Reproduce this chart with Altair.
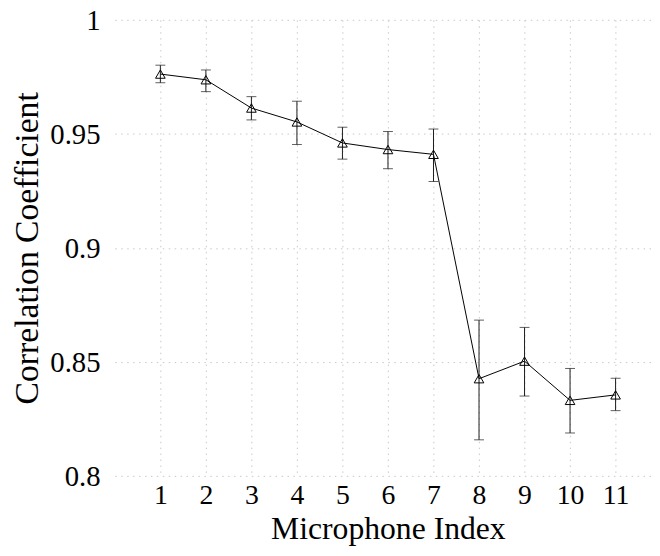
import altair as alt
import pandas as pd

mic_index = [1, 2, 3, 4, 5, 6, 7, 8, 9, 10, 11]
corr_mean = [0.9762, 0.9737, 0.9613, 0.9552, 0.9460, 0.9431, 0.9410, 0.8426, 0.8503, 0.8331, 0.8355]
corr_upper = [0.9801, 0.9780, 0.9663, 0.9643, 0.9529, 0.9510, 0.9521, 0.8683, 0.8651, 0.8471, 0.8428]
corr_lower = [0.9724, 0.9685, 0.9561, 0.9453, 0.9389, 0.9347, 0.9291, 0.8158, 0.8350, 0.8188, 0.8286]
y_ticks = [0.8, 0.85, 0.9, 0.95, 1.0]

df = pd.DataFrame({"mic": mic_index, "mean": corr_mean, "upper": corr_upper, "lower": corr_lower})

FONT = "Liberation Serif"

x = alt.X("mic:Q",
          scale=alt.Scale(domain=[0, 11.8], nice=False, zero=False),
          axis=alt.Axis(title="Microphone Index", values=mic_index, format="d",
                        titleX=276, titleY=63, titleBaseline="alphabetic"))
y = alt.Y("mean:Q",
          scale=alt.Scale(domain=[0.8, 1.0], nice=False, zero=False),
          axis=alt.Axis(title="Correlation Coefficient", values=y_ticks, format=".2~f",
                        labelOffset=1, titleX=-78, titleBaseline="alphabetic",
                        titleAngle=270))

base = alt.Chart(df)

line = base.mark_line(color="black", strokeWidth=1).encode(x=x, y=y)
err = base.mark_rule(color="#1a1a1a", strokeWidth=1).encode(
    x="mic:Q", y="lower:Q", y2="upper:Q")
cap_top = base.mark_tick(orient="horizontal", size=10, thickness=1, color="#1a1a1a").encode(
    x="mic:Q", y="upper:Q")
cap_bot = base.mark_tick(orient="horizontal", size=10, thickness=1, color="#1a1a1a").encode(
    x="mic:Q", y="lower:Q")
pts = base.mark_point(shape="triangle-up", size=95, color="black", strokeWidth=1,
                      filled=False, opacity=1).encode(x="mic:Q", y="mean:Q")

chart = alt.layer(line, err, cap_top, cap_bot, pts).properties(
    width=543, height=461,
    autosize=alt.AutoSizeParams(type="none"),
    padding={"left": 108, "top": 9, "right": 0, "bottom": 70},
).configure_view(stroke=None).configure_axis(
    domain=False, ticks=False, tickSize=0,
    grid=True, gridColor="#c8c8c8", gridDash=[1.5, 4.5], gridWidth=1,
    labelFont=FONT, labelColor="black",
    titleFont=FONT, titleFontWeight="normal", titleColor="black",
).configure_axisX(labelPadding=6, labelFontSize=28, titleFontSize=32).configure_axisY(
    labelPadding=15, labelFontSize=29, titleFontSize=34)

chart.save("out.html", embed_options={"renderer": "svg", "actions": False})
